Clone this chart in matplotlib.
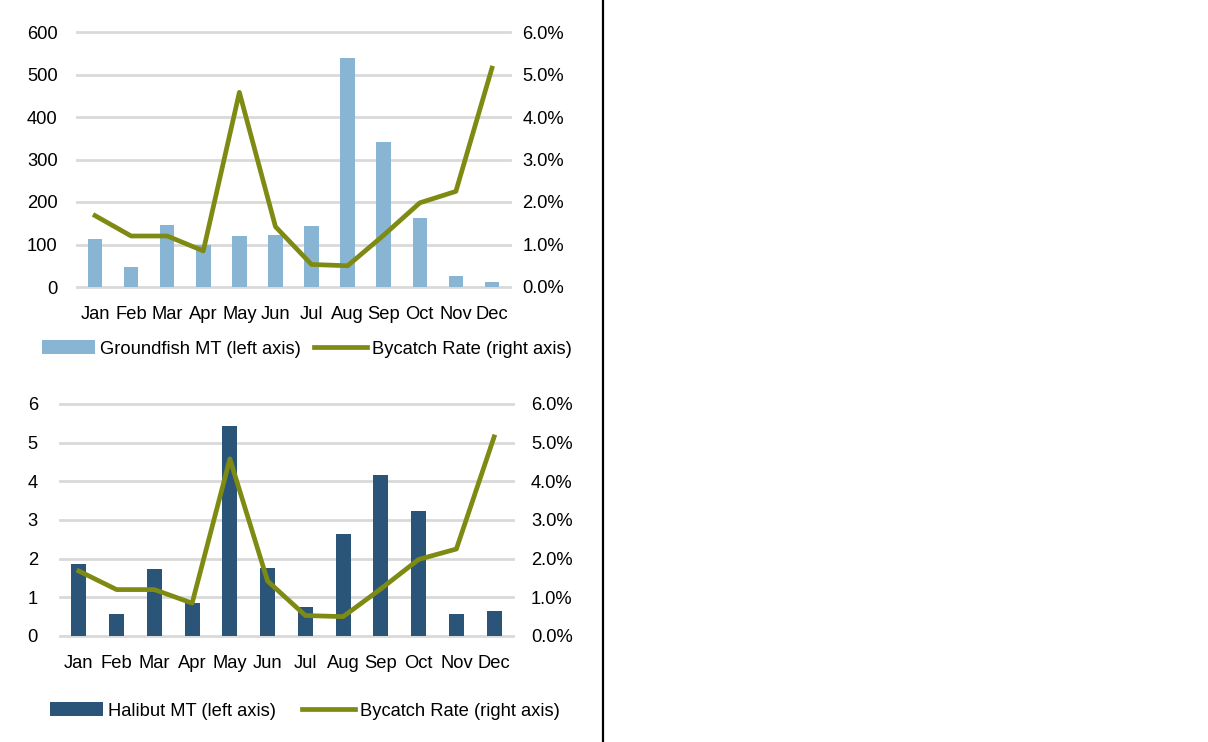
import matplotlib
matplotlib.use("Agg")
import matplotlib.pyplot as plt
from matplotlib.ticker import FuncFormatter
from matplotlib.lines import Line2D
from matplotlib.patches import Patch

months = ["Jan", "Feb", "Mar", "Apr", "May", "Jun", "Jul", "Aug", "Sep", "Oct", "Nov", "Dec"]
groundfish_mt = [112, 48, 145, 100, 119, 122, 143, 540, 341, 162, 26, 12]
halibut_mt = [1.87, 0.58, 1.74, 0.85, 5.42, 1.76, 0.76, 2.65, 4.17, 3.22, 0.58, 0.65]
bycatch_rate = [1.68, 1.20, 1.20, 0.85, 4.58, 1.42, 0.53, 0.50, 1.22, 1.98, 2.25, 5.15]

plt.rcParams['font.family'] = ['Liberation Sans Narrow', 'Liberation Sans', 'DejaVu Sans']

W, H = 1208, 742
fig = plt.figure(figsize=(W / 100, H / 100), dpi=100)

LIGHT = "#89B5D4"
DARK = "#2A5578"
OLIVE = "#7F8A12"
GRID = "#D9D9D9"
FS = 13.2


def make_panel(x0, x1, ytop, ybot, bars, bar_color, ymax, ystep, lpad, rpad):
    ax = fig.add_axes([x0 / W, 1 - ybot / H, (x1 - x0) / W, (ybot - ytop) / H])
    x = list(range(len(months)))
    ax.bar(x, bars, width=0.4, color=bar_color, zorder=2)
    ax.set_xlim(-0.5, len(months) - 0.5)
    ax.set_ylim(0, ymax)
    ticks = [i * ystep for i in range(int(round(ymax / ystep)) + 1)]
    ax.set_yticks(ticks)
    ax.set_yticklabels([f"{t:g}" for t in ticks], fontsize=FS)
    ax.set_xticks(x)
    ax.set_xticklabels(months, fontsize=FS)
    ax.tick_params(axis='x', length=0, pad=14)
    ax.tick_params(axis='y', length=0, pad=lpad)
    for s in ax.spines.values():
        s.set_visible(False)
    for t in ticks:
        ax.axhline(t, color=GRID, lw=2, zorder=1, clip_on=False)
    ax.set_facecolor('none')
    ax2 = ax.twinx()
    ax2.plot(x, bycatch_rate, color=OLIVE, lw=3.4, zorder=3)
    ax2.set_ylim(0, 6)
    ax2.set_yticks([0, 1, 2, 3, 4, 5, 6])
    ax2.yaxis.set_major_formatter(FuncFormatter(lambda v, p: f"{v:.1f}%"))
    ax2.tick_params(length=0, labelsize=FS, pad=rpad)
    for s in ax2.spines.values():
        s.set_visible(False)
    return ax, ax2


make_panel(77, 510, 32, 287, groundfish_mt, LIGHT, 600, 100, 14, 9)
make_panel(60, 513, 404, 636, halibut_mt, DARK, 6, 1, 16, 13)


def legend_item(left_x, center_y, handle, label):
    fig.legend([handle], [label], loc='center left', bbox_to_anchor=(left_x / W, 1 - center_y / H),
               frameon=False, fontsize=FS, handlelength=2.9, handleheight=0.75,
               handletextpad=0.25, borderaxespad=0, borderpad=0)


line_handle = Line2D([0], [0], color=OLIVE, lw=3.4)
legend_item(42, 349, Patch(facecolor=LIGHT, edgecolor='none'), "Groundfish MT (left axis)")
legend_item(314, 349, line_handle, "Bycatch Rate (right axis)")
legend_item(50, 711, Patch(facecolor=DARK, edgecolor='none'), "Halibut MT (left axis)")
legend_item(302, 711, line_handle, "Bycatch Rate (right axis)")

fig.add_artist(Line2D([603 / W, 603 / W], [0, 1], color='black', lw=1.6, transform=fig.transFigure))

fig.savefig("out.png", dpi=100)
